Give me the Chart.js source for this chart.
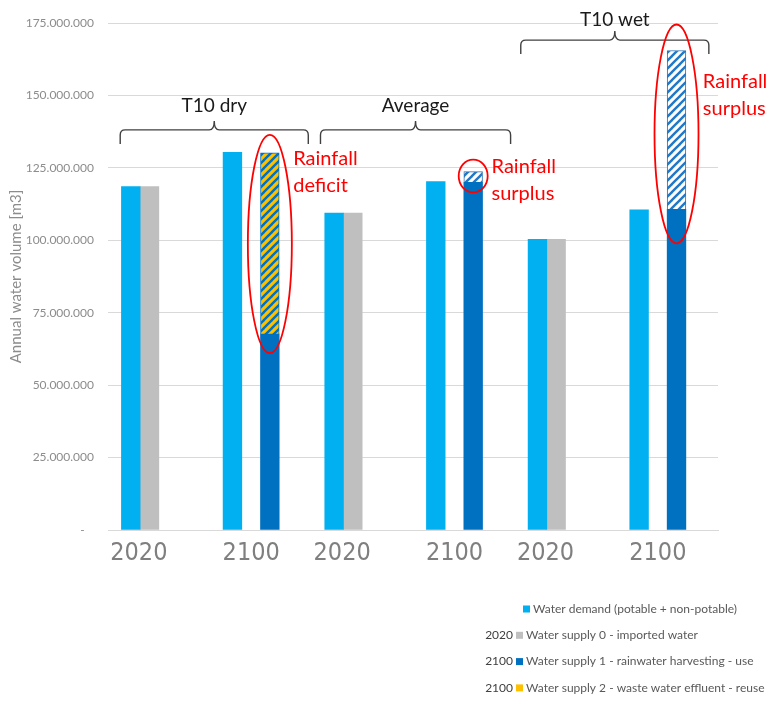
<!DOCTYPE html>
<html>
<head>
<meta charset="utf-8">
<script src="https://cdn.jsdelivr.net/npm/chart.js@4.4.1/dist/chart.umd.min.js"></script>
<style>
    html, body { margin: 0; padding: 0; background: #fff; }
    #wrap { width: 775px; height: 704px; position: relative; }
</style>
</head>
<body>
<div id="wrap"><canvas id="waterChart"></canvas></div>
<script>
// values, m3 per year
const categories = ['2020', '2100', '2020', '2100', '2020', '2100'];
const scenarios = ['T10 dry', 'Average', 'T10 wet'];
const demand = [118.5e6, 130.4e6, 109.4e6, 120.3e6, 100.3e6, 110.5e6];
const supplyImported = [118.5e6, null, 109.4e6, null, 100.3e6, null];
const supplyRainwater = [null, 67.6e6, null, 120.0e6, null, 110.7e6];
const supplyReuse = [null, 62.6e6, null, null, null, null];
const rainfallSurplus = [null, null, null, 3.7e6, null, 54.8e6];
const yTickValues = [0, 25e6, 50e6, 75e6, 100e6, 125e6, 150e6, 175e6];
const legendPrefixes = ['', '2020', '2100', '2100'];
const legendLabels = [
    'Water demand (potable + non-potable)',
    'Water supply 0 - imported water',
    'Water supply 1 - rainwater harvesting - use',
    'Water supply 2 - waste water effluent - reuse'
];
const notes = [['Rainfall', 'deficit'], ['Rainfall', 'surplus'], ['Rainfall', 'surplus']];

const BLUE_LIGHT = '#00b0f0';
const GREY = '#bfbfbf';
const BLUE_DARK = '#0070c0';
const YELLOW = '#ffc000';

const makeHatch = (bg, fg) => {
    const c = document.createElement('canvas');
    c.width = 8; c.height = 8;
    const g = c.getContext('2d');
    g.fillStyle = bg;
    g.fillRect(0, 0, 8, 8);
    g.strokeStyle = fg;
    g.lineWidth = 2.4;
    [[-4, 4, 4, -4], [0, 8, 8, 0], [4, 12, 12, 4]].forEach(([a, b, c2, d]) => {
        g.beginPath(); g.moveTo(a, b); g.lineTo(c2, d); g.stroke();
    });
    return g.createPattern(c, 'repeat');
};

const fmt = v => v === 0 ? '-   ' : String(v).replace(/\B(?=(\d{3})+(?!\d))/g, '.');

// brackets, ellipses and red notes drawn on top
const annotations = {
    id: 'annotations',
    afterDatasetsDraw(chart) {
        const { ctx, scales: { x, y } } = chart;
        ctx.save();

        // scenario brackets
        const brackets = [
            { from: -0.38, to: 1.47, level: 138.1e6, textGap: 24 },
            { from: 1.59, to: 3.46, level: 138.1e6, textGap: 24 },
            { from: 3.56, to: 5.41, level: 169.1e6, textGap: 20 }
        ];
        ctx.strokeStyle = '#404040';
        ctx.lineWidth = 1.4;
        brackets.forEach((b, i) => {
            const x1 = x.getPixelForValue(b.from);
            const x2 = x.getPixelForValue(b.to);
            const xm = (x1 + x2) / 2;
            const yl = y.getPixelForValue(b.level);
            const r = 5;
            ctx.beginPath();
            ctx.moveTo(x1, yl + 14);
            ctx.lineTo(x1, yl + r);
            ctx.quadraticCurveTo(x1, yl, x1 + r, yl);
            ctx.lineTo(xm - r, yl);
            ctx.quadraticCurveTo(xm, yl, xm, yl - 9);
            ctx.quadraticCurveTo(xm, yl, xm + r, yl);
            ctx.lineTo(x2 - r, yl);
            ctx.quadraticCurveTo(x2, yl, x2, yl + r);
            ctx.lineTo(x2, yl + 14);
            ctx.stroke();
            ctx.fillStyle = '#1a1a1a';
            ctx.font = '19px Lato, sans-serif';
            ctx.textAlign = 'center';
            ctx.textBaseline = 'middle';
            ctx.fillText(scenarios[i], xm, yl - b.textGap);
        });

        // red rings around the balance segments
        const rings = [
            { ds: 3, idx: 1, rx: 22, above: 18, below: 19, note: 0, dx: 14, dy: 6 },
            { ds: 4, idx: 3, rx: 14.5, above: 12, below: 10, note: 1, dx: 9, dy: -5 },
            { ds: 4, idx: 5, rx: 22, above: 26, below: 34, note: 2, dx: 17, dy: 31 }
        ];
        rings.forEach(rg => {
            const el = chart.getDatasetMeta(rg.ds).data[rg.idx];
            const top = el.y - rg.above;
            const bottom = el.base + rg.below;
            ctx.strokeStyle = '#ff0000';
            ctx.lineWidth = 1.8;
            ctx.beginPath();
            ctx.ellipse(el.x, (top + bottom) / 2, rg.rx, (bottom - top) / 2, 0, 0, Math.PI * 2);
            ctx.stroke();
            ctx.fillStyle = '#ff0000';
            ctx.font = '20px Lato, sans-serif';
            ctx.textAlign = 'left';
            ctx.textBaseline = 'middle';
            const tx = el.x + el.width / 2 + rg.dx;
            notes[rg.note].forEach((line, k) => {
                ctx.fillText(line, tx, el.y + rg.dy + k * 27);
            });
        });
        ctx.restore();
    },
    afterDraw(chart) {
        // legend with year prefixes, as in the figure
        const { ctx, chartArea } = chart;
        const colours = [BLUE_LIGHT, GREY, BLUE_DARK, YELLOW];
        ctx.save();
        ctx.textBaseline = 'middle';
        legendLabels.forEach((label, i) => {
            const yy = chartArea.bottom + 79 + i * 26.3;
            const sx = legendPrefixes[i] ? 516 : 523;
            if (legendPrefixes[i]) {
                ctx.font = '12px "Liberation Sans Narrow", Lato, sans-serif';
                ctx.fillStyle = '#404040';
                ctx.textAlign = 'right';
                ctx.fillText(legendPrefixes[i], 513, yy);
            }
            ctx.fillStyle = colours[i];
            ctx.fillRect(sx, yy - 3.5, 7, 7);
            ctx.font = '12px Lato, sans-serif';
            ctx.fillStyle = '#595959';
            ctx.textAlign = 'left';
            ctx.fillText(label, sx + 10, yy);
        });
        ctx.restore();
    }
};

Chart.defaults.font.family = 'Lato, sans-serif';

new Chart(document.getElementById('waterChart'), {
    type: 'bar',
    data: {
        labels: categories,
        datasets: [
            { label: legendLabels[0], data: demand, backgroundColor: BLUE_LIGHT, stack: 'demand' },
            { label: legendLabels[1], data: supplyImported, backgroundColor: GREY, stack: 'imported' },
            { label: legendLabels[2], data: supplyRainwater, backgroundColor: BLUE_DARK, stack: 'local' },
            { label: legendLabels[3], data: supplyReuse, backgroundColor: makeHatch(YELLOW, BLUE_DARK),
              borderColor: BLUE_DARK, borderWidth: 1, stack: 'local' },
            { label: 'Rainfall surplus', data: rainfallSurplus, backgroundColor: makeHatch('#ffffff', '#1f78c8'),
              borderColor: '#2e75b6', borderWidth: 1, stack: 'local' },
            { label: '', data: [], stack: 'spare' }
        ]
    },
    options: {
        responsive: true,
        maintainAspectRatio: false,
        animation: false,
        layout: { padding: { left: 5, right: 57, top: 23, bottom: 140 } },
        datasets: { bar: { barThickness: 18.7 } },
        plugins: {
            legend: { display: false },
            tooltip: { enabled: false }
        },
        scales: {
            x: {
                grid: { display: false },
                border: { color: '#d9d9d9' },
                ticks: {
                    color: '#7f7f7f',
                    padding: 0,
                    labelOffset: -9.3,
                    font: { family: '"Liberation Sans Narrow", "DejaVu Sans Condensed", sans-serif', size: 25 },
                    callback: (v, i) => categories[i] === '2020' ? categories[i] + '   ' : categories[i]
                },
                afterFit: s => { s.height = 34; }
            },
            y: {
                stacked: true,
                min: 0,
                max: yTickValues[yTickValues.length - 1],
                afterBuildTicks: s => { s.ticks = yTickValues.map(v => ({ value: v })); },
                grid: { color: '#d9d9d9', drawTicks: false, tickLength: 0 },
                border: { display: false },
                ticks: { color: '#8c8c8c', padding: 14, font: { size: 12 }, callback: v => fmt(v) },
                title: {
                    display: true,
                    text: 'Annual water volume [m3]',
                    color: '#8c8c8c',
                    font: { size: 15 },
                    padding: { top: 2, bottom: 4 }
                },
                afterFit: s => { s.width = 103; }
            }
        }
    },
    plugins: [annotations]
});
</script>
</body>
</html>
